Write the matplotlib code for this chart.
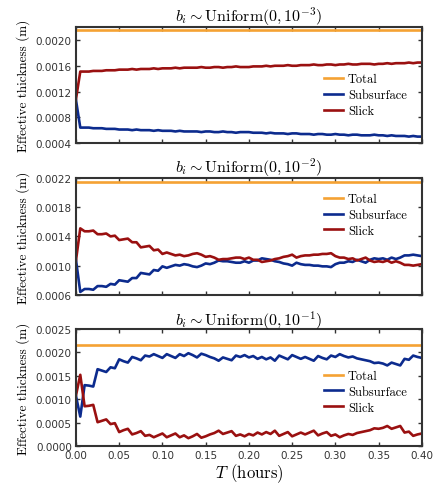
import numpy as np
import matplotlib
matplotlib.use("Agg")
import matplotlib.pyplot as plt
from matplotlib.ticker import FormatStrFormatter

# ---------------- data ----------------
t_hours = [round(0.005 * i, 3) for i in range(81)]
total_value = 0.00215

titles = [r"$b_i \sim \mathrm{Uniform}(0, 10^{-3})$",
          r"$b_i \sim \mathrm{Uniform}(0, 10^{-2})$",
          r"$b_i \sim \mathrm{Uniform}(0, 10^{-1})$"]

sub_1 = [0.00107, 0.00064, 0.00064, 0.00064, 0.00063, 0.00063, 0.00063, 0.00062, 0.00062, 0.00062,
         0.00061, 0.00061, 0.00061, 0.00060, 0.00061, 0.00060, 0.00060, 0.00060, 0.00059, 0.00060,
         0.00059, 0.00059, 0.00059, 0.00058, 0.00059, 0.00058, 0.00058, 0.00058, 0.00058, 0.00057,
         0.00058, 0.00058, 0.00057, 0.00057, 0.00058, 0.00057, 0.00057, 0.00056, 0.00057, 0.00057,
         0.00057, 0.00056, 0.00056, 0.00056, 0.00055, 0.00056, 0.00055, 0.00055, 0.00055, 0.00054,
         0.00055, 0.00055, 0.00054, 0.00054, 0.00054, 0.00053, 0.00054, 0.00054, 0.00053, 0.00053,
         0.00054, 0.00053, 0.00053, 0.00052, 0.00053, 0.00053, 0.00052, 0.00052, 0.00052, 0.00053,
         0.00052, 0.00052, 0.00051, 0.00052, 0.00051, 0.00051, 0.00051, 0.00050, 0.00051, 0.00050,
         0.00050]
slick_1 = [0.00108, 0.00151, 0.00151, 0.00151, 0.00152, 0.00152, 0.00152, 0.00153, 0.00153, 0.00153,
           0.00154, 0.00154, 0.00154, 0.00155, 0.00154, 0.00155, 0.00155, 0.00155, 0.00156, 0.00155,
           0.00156, 0.00156, 0.00156, 0.00157, 0.00156, 0.00157, 0.00157, 0.00157, 0.00157, 0.00158,
           0.00157, 0.00157, 0.00158, 0.00158, 0.00157, 0.00158, 0.00158, 0.00159, 0.00158, 0.00158,
           0.00158, 0.00159, 0.00159, 0.00159, 0.00160, 0.00159, 0.00160, 0.00160, 0.00160, 0.00161,
           0.00160, 0.00160, 0.00161, 0.00161, 0.00161, 0.00162, 0.00161, 0.00161, 0.00162, 0.00162,
           0.00161, 0.00162, 0.00162, 0.00163, 0.00162, 0.00162, 0.00163, 0.00163, 0.00163, 0.00162,
           0.00163, 0.00163, 0.00164, 0.00163, 0.00164, 0.00164, 0.00164, 0.00165, 0.00164, 0.00165,
           0.00165]

sub_2 = [0.00108, 0.00064, 0.00068, 0.00068, 0.00067, 0.00072, 0.00072, 0.00071, 0.00075, 0.00074,
         0.00080, 0.00079, 0.00078, 0.00083, 0.00083, 0.00090, 0.00089, 0.00088, 0.00094, 0.00093,
         0.00099, 0.00097, 0.00099, 0.00101, 0.00100, 0.00102, 0.00101, 0.00099, 0.00098, 0.00100,
         0.00103, 0.00102, 0.00104, 0.00107, 0.00106, 0.00106, 0.00105, 0.00104, 0.00104, 0.00106,
         0.00104, 0.00107, 0.00107, 0.00110, 0.00109, 0.00108, 0.00106, 0.00105, 0.00103, 0.00102,
         0.00100, 0.00104, 0.00102, 0.00101, 0.00101, 0.00100, 0.00100, 0.00099, 0.00099, 0.00098,
         0.00102, 0.00104, 0.00104, 0.00106, 0.00105, 0.00108, 0.00106, 0.00104, 0.00108, 0.00110,
         0.00109, 0.00110, 0.00108, 0.00111, 0.00109, 0.00111, 0.00114, 0.00114, 0.00115, 0.00114,
         0.00113]
slick_2 = [0.00107, 0.00151, 0.00147, 0.00147, 0.00148, 0.00143, 0.00143, 0.00144, 0.00140, 0.00141,
           0.00135, 0.00136, 0.00137, 0.00132, 0.00132, 0.00125, 0.00126, 0.00127, 0.00121, 0.00122,
           0.00116, 0.00118, 0.00116, 0.00114, 0.00115, 0.00113, 0.00114, 0.00116, 0.00117, 0.00115,
           0.00112, 0.00113, 0.00111, 0.00108, 0.00109, 0.00109, 0.00110, 0.00111, 0.00111, 0.00109,
           0.00111, 0.00108, 0.00108, 0.00105, 0.00106, 0.00107, 0.00109, 0.00110, 0.00112, 0.00113,
           0.00115, 0.00111, 0.00113, 0.00114, 0.00114, 0.00115, 0.00115, 0.00116, 0.00116, 0.00117,
           0.00113, 0.00111, 0.00111, 0.00109, 0.00110, 0.00107, 0.00109, 0.00111, 0.00107, 0.00105,
           0.00106, 0.00105, 0.00107, 0.00104, 0.00106, 0.00104, 0.00101, 0.00101, 0.00100, 0.00101,
           0.00102]

sub_3 = [0.00107, 0.00063, 0.00130, 0.00129, 0.00127, 0.00164, 0.00161, 0.00158, 0.00168, 0.00166,
         0.00185, 0.00181, 0.00178, 0.00190, 0.00187, 0.00183, 0.00193, 0.00191, 0.00196, 0.00192,
         0.00188, 0.00196, 0.00192, 0.00188, 0.00196, 0.00192, 0.00198, 0.00194, 0.00189, 0.00197,
         0.00194, 0.00190, 0.00187, 0.00182, 0.00189, 0.00186, 0.00183, 0.00193, 0.00190, 0.00194,
         0.00189, 0.00192, 0.00186, 0.00190, 0.00185, 0.00189, 0.00182, 0.00193, 0.00189, 0.00185,
         0.00194, 0.00190, 0.00186, 0.00190, 0.00186, 0.00182, 0.00192, 0.00188, 0.00185, 0.00193,
         0.00190, 0.00196, 0.00192, 0.00189, 0.00191, 0.00187, 0.00185, 0.00183, 0.00181, 0.00177,
         0.00178, 0.00176, 0.00172, 0.00178, 0.00175, 0.00172, 0.00186, 0.00184, 0.00193, 0.00190,
         0.00188]
slick_3 = [0.00108, 0.00152, 0.00085, 0.00086, 0.00088, 0.00051, 0.00054, 0.00057, 0.00047, 0.00049,
           0.00030, 0.00034, 0.00037, 0.00025, 0.00028, 0.00032, 0.00022, 0.00024, 0.00019, 0.00023,
           0.00027, 0.00019, 0.00023, 0.00027, 0.00019, 0.00023, 0.00017, 0.00021, 0.00026, 0.00018,
           0.00021, 0.00025, 0.00028, 0.00033, 0.00026, 0.00029, 0.00032, 0.00022, 0.00025, 0.00021,
           0.00026, 0.00023, 0.00029, 0.00025, 0.00030, 0.00026, 0.00033, 0.00022, 0.00026, 0.00030,
           0.00021, 0.00025, 0.00029, 0.00025, 0.00029, 0.00033, 0.00023, 0.00027, 0.00030, 0.00022,
           0.00025, 0.00019, 0.00023, 0.00026, 0.00024, 0.00028, 0.00030, 0.00032, 0.00034, 0.00038,
           0.00037, 0.00039, 0.00043, 0.00037, 0.00040, 0.00043, 0.00029, 0.00031, 0.00022, 0.00025,
           0.00027]

subsurface_series = [sub_1, sub_2, sub_3]
slick_series = [slick_1, slick_2, slick_3]
y_limits = [(0.0004, 0.0022), (0.0006, 0.0022), (0.0, 0.0025)]
y_ticks = [[0.0004, 0.0008, 0.0012, 0.0016, 0.0020],
           [0.0006, 0.0010, 0.0014, 0.0018, 0.0022],
           [0.0000, 0.0005, 0.0010, 0.0015, 0.0020, 0.0025]]
x_ticks = [0.0, 0.05, 0.10, 0.15, 0.20, 0.25, 0.30, 0.35, 0.40]
legend_anchor_y = [0.414, 0.684, 0.464]

# ---------------- style ----------------
plt.rcParams["mathtext.fontset"] = "cm"
plt.rcParams["font.family"] = ["DejaVu Sans"]

c_total = "#f5a233"
c_sub = "#0c2b8e"
c_slick = "#9a1010"
spine_col = "#333333"
serif = ["cmr10", "DejaVu Serif"]

fig = plt.figure(figsize=(4.34, 4.85), dpi=100)
boxes = [(0.175, 0.703, 0.797, 0.239),
         (0.175, 0.390, 0.797, 0.241),
         (0.175, 0.078, 0.797, 0.242)]

for k in range(3):
    ax = fig.add_axes(boxes[k])
    total = [total_value] * len(t_hours)
    ax.plot(t_hours, total, color=c_total, lw=1.9, label="Total")
    ax.plot(t_hours, subsurface_series[k], color=c_sub, lw=1.9, label="Subsurface")
    ax.plot(t_hours, slick_series[k], color=c_slick, lw=1.9, label="Slick")
    ax.set_xlim(0, 0.4)
    ax.set_ylim(*y_limits[k])
    ax.set_xticks(x_ticks)
    ax.set_yticks(y_ticks[k])
    ax.yaxis.set_major_formatter(FormatStrFormatter("%.4f"))
    ax.xaxis.set_major_formatter(FormatStrFormatter("%.2f"))
    ax.tick_params(direction="in", top=True, right=True, length=3, width=1,
                   colors=spine_col, labelsize=7.5, labelcolor="#333333", pad=3)
    for s in ax.spines.values():
        s.set_color(spine_col)
        s.set_linewidth(1.5)
    if k < 2:
        ax.tick_params(labelbottom=False)
    ax.set_title(titles[k], fontsize=11.5, pad=3)
    ax.set_ylabel("Effective thickness (m)", fontsize=9.5, family=serif, labelpad=4)
    ax.legend(loc="center left", bbox_to_anchor=(0.717, legend_anchor_y[k]),
              frameon=False, prop={"family": serif, "size": 9},
              handlelength=1.55, handletextpad=0.38, labelspacing=0.3,
              borderpad=0, borderaxespad=0)

fig.axes[2].set_xlabel(r"$T$ (hours)", fontsize=12, family=serif, labelpad=1)

fig.savefig("out.png", dpi=100)
